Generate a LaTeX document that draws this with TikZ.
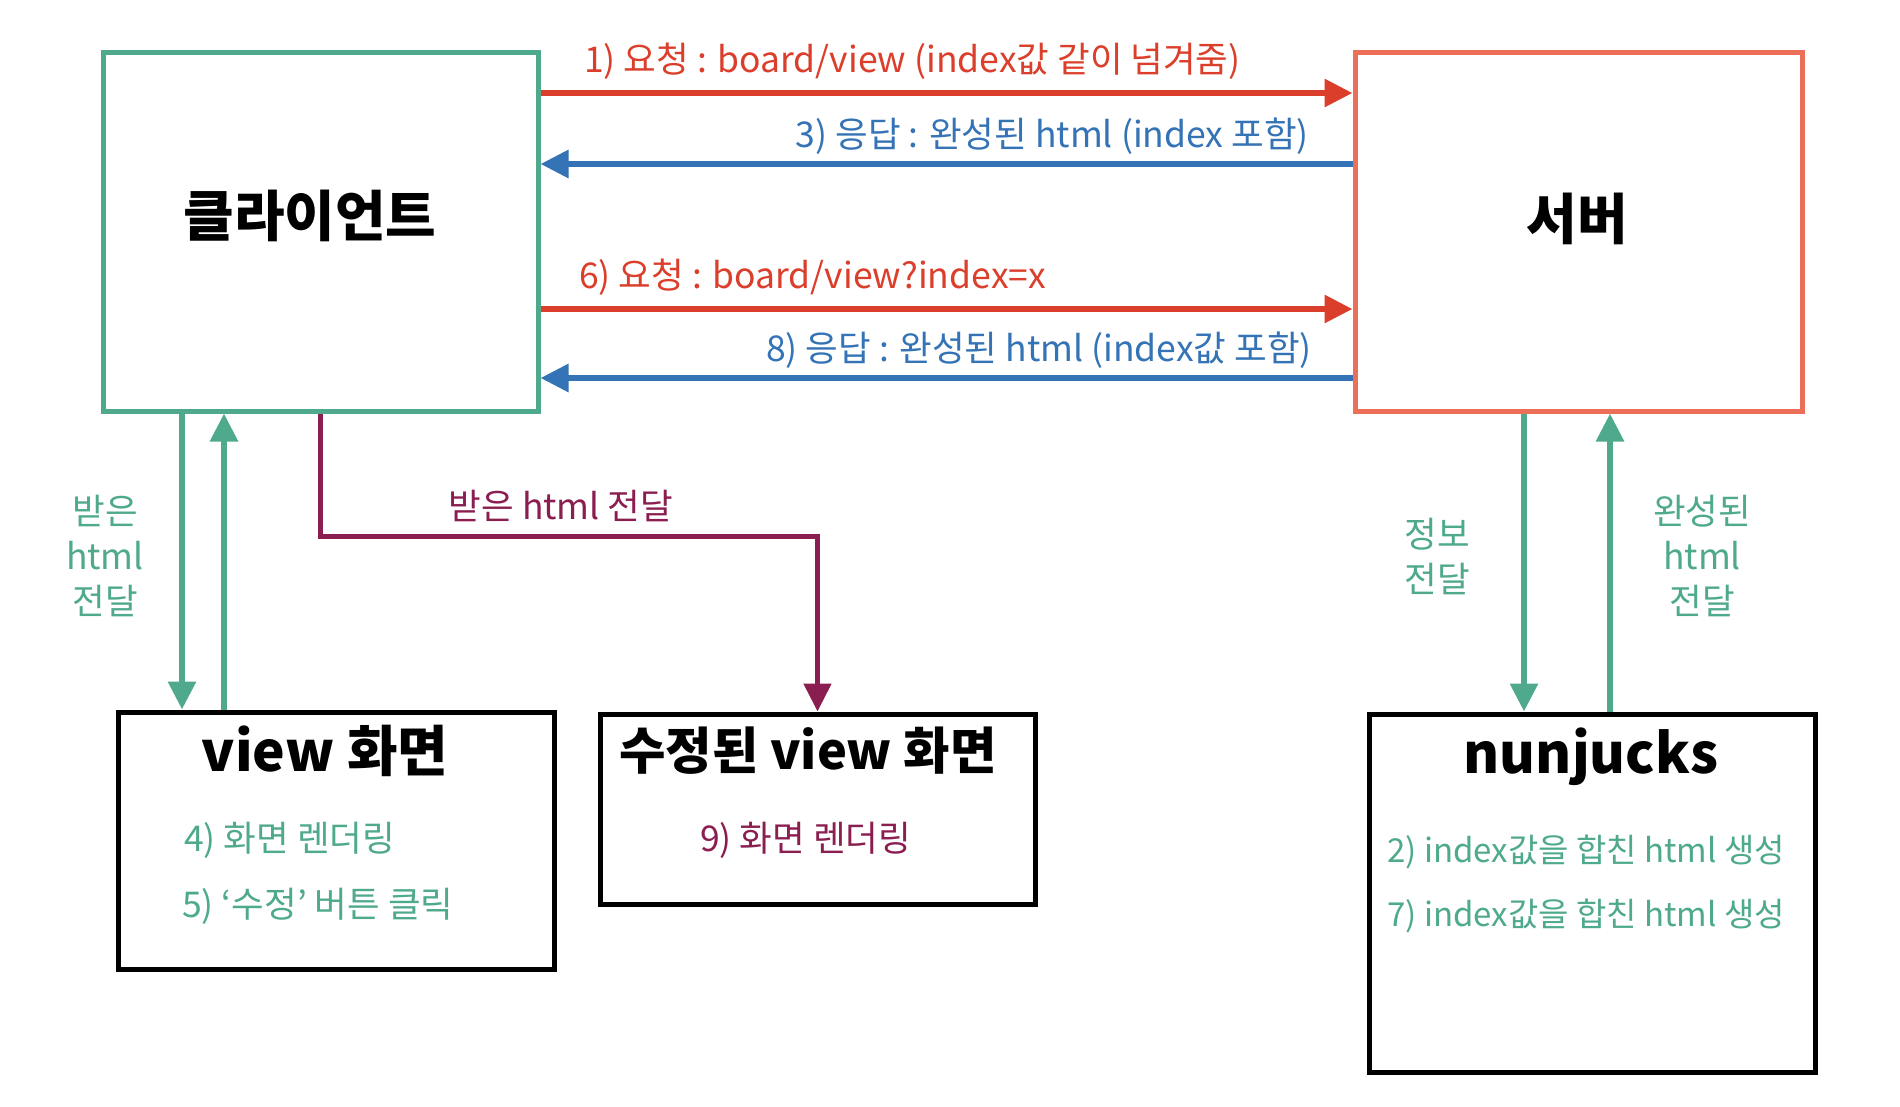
\documentclass[tikz,border=0pt]{standalone}
\usepackage{fontspec}
\setmainfont{Noto Sans CJK KR}
\usetikzlibrary{arrows.meta,calc}
\definecolor{cgreen}{HTML}{4EA98D}
\definecolor{cred}{HTML}{DB3E2A}
\definecolor{cblue}{HTML}{3473B5}
\definecolor{csalmon}{HTML}{EC6F57}
\definecolor{cpurple}{HTML}{8B1E50}
\tikzset{
  box/.style={draw, line width=5pt, inner sep=0pt},
  conn/.style={line width=6pt, -{Triangle[length=28pt,width=27pt]}, shorten >=0pt},
  lbl/.style={font=\fontsize{35.5}{45}\selectfont, inner sep=0pt},
  sml/.style={font=\fontsize{33}{40}\selectfont, inner sep=0pt},
  title/.style={font=\fontsize{55}{60}\selectfont\bfseries, inner sep=0pt},
}
\begin{document}
\begin{tikzpicture}[x=1pt,y=-1pt]
\useasboundingbox[fill=white] (0,0) rectangle (1900,1106);
% boxes
\node[box, draw=cgreen, minimum width=435pt, minimum height=359pt] (client) at (320.5,231.5) {};
\node[box, draw=csalmon, minimum width=447pt, minimum height=359pt] (server) at (1578.5,231.5) {};
\node[box, draw=black, minimum width=436pt, minimum height=257pt] (view) at (336,840.5) {};
\node[box, draw=black, minimum width=435pt, minimum height=190pt] (mod) at (817.5,809) {};
\node[box, draw=black, minimum width=446pt, minimum height=358pt] (nun) at (1592,893) {};
% titles
\node[title] (tclient) at (310,216) {클라이언트};
\node[title] (tserver) at (1577,219) {서버};
\node[title] (tview) at (325,751) {view 화면};
\node[title, font=\fontsize{50.5}{56}\selectfont\bfseries] (tmod) at (808,751) {수정된 view 화면};
\node[title] (tnun) at (1591,757) {nunjucks};
% box texts
\node[lbl, text=cgreen, anchor=west] (t4) at (184,840) {4) 화면 렌더링};
\node[lbl, text=cgreen, anchor=west] (t5) at (182,906) {5) ‘수정’ 버튼 클릭};
\node[lbl, text=cpurple, anchor=west] (t9) at (700,840) {9) 화면 렌더링};
\node[sml, text=cgreen, anchor=west] (t2) at (1387,852) {2) index값을 합친 html 생성};
\node[sml, text=cgreen, anchor=west] (t7) at (1387,916) {7) index값을 합친 html 생성};
% horizontal arrows
\coordinate (a1) at (0,93);
\coordinate (a3) at (0,164);
\coordinate (a6) at (0,309);
\coordinate (a8) at (0,378);
\draw[conn, cred] (client.east |- a1) -- (server.west |- a1);
\draw[conn, cblue] (server.west |- a3) -- (client.east |- a3);
\draw[conn, cred] (client.east |- a6) -- (server.west |- a6);
\draw[conn, cblue] (server.west |- a8) -- (client.east |- a8);
\node[lbl, text=cred, anchor=west] (l1) at (584,61) {1) 요청 : board/view (index값 같이 넘겨줌)};
\node[lbl, text=cblue, anchor=east] (l3) at (1309,136) {3) 응답 : 완성된 html (index 포함)};
\node[lbl, text=cred, anchor=west] (l6) at (579,277) {6) 요청 : board/view?index=x};
\node[lbl, text=cblue, anchor=east] (l8) at (1312,350) {8) 응답 : 완성된 html (index값 포함)};
% vertical arrows left
\coordinate (v1) at (182,0);
\coordinate (v2) at (224,0);
\draw[conn, cgreen] (client.south -| v1) -- (view.north -| v1);
\draw[conn, cgreen] (view.north -| v2) -- (client.south -| v2);
\node[lbl, text=cgreen, align=center] (lleft) at (105,556) {받은\\html\\전달};
% purple path
\coordinate (p1) at (320,536);
\draw[conn, cpurple, line width=5pt] (client.south -| p1) -- (p1) -- (p1 -| mod.north) -- (mod.north);
\node[lbl, text=cpurple] (lmid) at (561,506) {받은 html 전달};
% vertical arrows right
\coordinate (v3) at (1524,0);
\coordinate (v4) at (1610,0);
\draw[conn, cgreen] (server.south -| v3) -- (nun.north -| v3);
\draw[conn, cgreen] (nun.north -| v4) -- (server.south -| v4);
\node[lbl, text=cgreen, align=center] (lr1) at (1437,556) {정보\\전달};
\node[lbl, text=cgreen, align=center] (lr2) at (1702,556) {완성된\\html\\전달};
\end{tikzpicture}
\end{document}
